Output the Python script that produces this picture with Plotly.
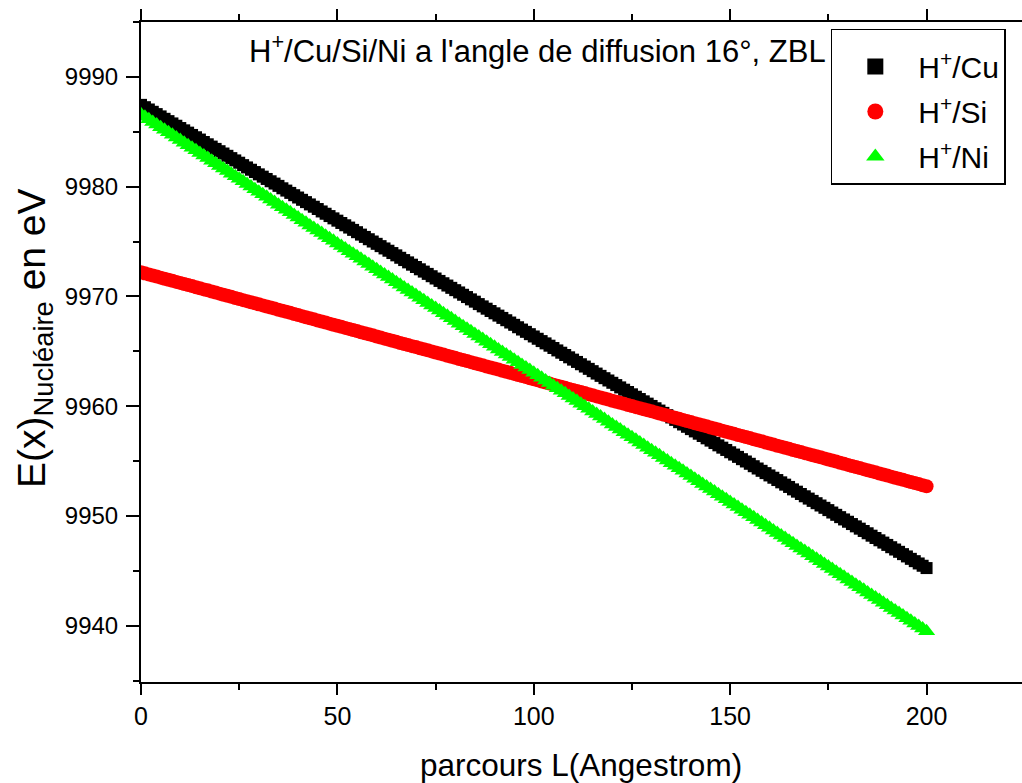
import plotly.graph_objects as go

# Parcours L (Angstrom), pas de 1 A
L_ANGSTROM = list(range(0, 201))

# Energie nucleaire E(x) en eV pour chaque cible
E_CU = [
    9987.45, 9987.24, 9987.03, 9986.82, 9986.61, 9986.40, 9986.18, 9985.97, 9985.76, 9985.55,
    9985.34, 9985.13, 9984.92, 9984.71, 9984.50, 9984.29, 9984.07, 9983.86, 9983.65, 9983.44,
    9983.23, 9983.02, 9982.81, 9982.60, 9982.39, 9982.18, 9981.96, 9981.75, 9981.54, 9981.33,
    9981.12, 9980.91, 9980.70, 9980.49, 9980.28, 9980.07, 9979.85, 9979.64, 9979.43, 9979.22,
    9979.01, 9978.80, 9978.59, 9978.38, 9978.17, 9977.96, 9977.74, 9977.53, 9977.32, 9977.11,
    9976.90, 9976.69, 9976.48, 9976.27, 9976.06, 9975.85, 9975.63, 9975.42, 9975.21, 9975.00,
    9974.79, 9974.58, 9974.37, 9974.16, 9973.95, 9973.74, 9973.52, 9973.31, 9973.10, 9972.89,
    9972.68, 9972.47, 9972.26, 9972.05, 9971.84, 9971.63, 9971.41, 9971.20, 9970.99, 9970.78,
    9970.57, 9970.36, 9970.15, 9969.94, 9969.73, 9969.52, 9969.30, 9969.09, 9968.88, 9968.67,
    9968.46, 9968.25, 9968.04, 9967.83, 9967.62, 9967.41, 9967.19, 9966.98, 9966.77, 9966.56,
    9966.35, 9966.14, 9965.93, 9965.72, 9965.51, 9965.30, 9965.08, 9964.87, 9964.66, 9964.45,
    9964.24, 9964.03, 9963.82, 9963.61, 9963.40, 9963.19, 9962.97, 9962.76, 9962.55, 9962.34,
    9962.13, 9961.92, 9961.71, 9961.50, 9961.29, 9961.08, 9960.86, 9960.65, 9960.44, 9960.23,
    9960.02, 9959.81, 9959.60, 9959.39, 9959.18, 9958.97, 9958.75, 9958.54, 9958.33, 9958.12,
    9957.91, 9957.70, 9957.49, 9957.28, 9957.07, 9956.86, 9956.64, 9956.43, 9956.22, 9956.01,
    9955.80, 9955.59, 9955.38, 9955.17, 9954.96, 9954.75, 9954.53, 9954.32, 9954.11, 9953.90,
    9953.69, 9953.48, 9953.27, 9953.06, 9952.85, 9952.64, 9952.42, 9952.21, 9952.00, 9951.79,
    9951.58, 9951.37, 9951.16, 9950.95, 9950.74, 9950.53, 9950.31, 9950.10, 9949.89, 9949.68,
    9949.47, 9949.26, 9949.05, 9948.84, 9948.63, 9948.42, 9948.20, 9947.99, 9947.78, 9947.57,
    9947.36, 9947.15, 9946.94, 9946.73, 9946.52, 9946.31, 9946.09, 9945.88, 9945.67, 9945.46,
    9945.25,
]

E_SI = [
    9972.20, 9972.10, 9972.00, 9971.91, 9971.81, 9971.71, 9971.61, 9971.52, 9971.42, 9971.32,
    9971.23, 9971.13, 9971.03, 9970.94, 9970.84, 9970.74, 9970.64, 9970.55, 9970.45, 9970.35,
    9970.25, 9970.15, 9970.05, 9969.96, 9969.86, 9969.76, 9969.66, 9969.57, 9969.47, 9969.37,
    9969.28, 9969.18, 9969.08, 9968.99, 9968.89, 9968.79, 9968.69, 9968.60, 9968.50, 9968.40,
    9968.30, 9968.20, 9968.10, 9968.01, 9967.91, 9967.81, 9967.71, 9967.62, 9967.52, 9967.42,
    9967.33, 9967.23, 9967.13, 9967.04, 9966.94, 9966.84, 9966.74, 9966.65, 9966.55, 9966.45,
    9966.35, 9966.25, 9966.15, 9966.06, 9965.96, 9965.86, 9965.76, 9965.67, 9965.57, 9965.47,
    9965.38, 9965.28, 9965.18, 9965.09, 9964.99, 9964.89, 9964.79, 9964.70, 9964.60, 9964.50,
    9964.40, 9964.30, 9964.20, 9964.11, 9964.01, 9963.91, 9963.81, 9963.72, 9963.62, 9963.52,
    9963.43, 9963.33, 9963.23, 9963.14, 9963.04, 9962.94, 9962.84, 9962.75, 9962.65, 9962.55,
    9962.45, 9962.35, 9962.25, 9962.16, 9962.06, 9961.96, 9961.86, 9961.77, 9961.67, 9961.57,
    9961.48, 9961.38, 9961.28, 9961.19, 9961.09, 9960.99, 9960.89, 9960.80, 9960.70, 9960.60,
    9960.50, 9960.40, 9960.30, 9960.21, 9960.11, 9960.01, 9959.91, 9959.82, 9959.72, 9959.62,
    9959.53, 9959.43, 9959.33, 9959.24, 9959.14, 9959.04, 9958.94, 9958.85, 9958.75, 9958.65,
    9958.55, 9958.45, 9958.35, 9958.26, 9958.16, 9958.06, 9957.96, 9957.87, 9957.77, 9957.67,
    9957.58, 9957.48, 9957.38, 9957.29, 9957.19, 9957.09, 9956.99, 9956.90, 9956.80, 9956.70,
    9956.60, 9956.50, 9956.40, 9956.31, 9956.21, 9956.11, 9956.01, 9955.92, 9955.82, 9955.72,
    9955.63, 9955.53, 9955.43, 9955.34, 9955.24, 9955.14, 9955.04, 9954.95, 9954.85, 9954.75,
    9954.65, 9954.55, 9954.45, 9954.36, 9954.26, 9954.16, 9954.06, 9953.97, 9953.87, 9953.77,
    9953.68, 9953.58, 9953.48, 9953.39, 9953.29, 9953.19, 9953.09, 9953.00, 9952.90, 9952.80,
    9952.70,
]

E_NI = [
    9986.60, 9986.36, 9986.13, 9985.89, 9985.66, 9985.42, 9985.19, 9984.95, 9984.72, 9984.48,
    9984.25, 9984.01, 9983.78, 9983.54, 9983.31, 9983.07, 9982.84, 9982.60, 9982.37, 9982.13,
    9981.89, 9981.65, 9981.42, 9981.18, 9980.95, 9980.71, 9980.48, 9980.24, 9980.01, 9979.77,
    9979.54, 9979.30, 9979.07, 9978.83, 9978.60, 9978.36, 9978.13, 9977.89, 9977.66, 9977.42,
    9977.18, 9976.94, 9976.71, 9976.47, 9976.24, 9976.00, 9975.77, 9975.53, 9975.30, 9975.06,
    9974.83, 9974.59, 9974.36, 9974.12, 9973.89, 9973.65, 9973.42, 9973.18, 9972.95, 9972.71,
    9972.47, 9972.23, 9972.00, 9971.76, 9971.53, 9971.29, 9971.06, 9970.82, 9970.59, 9970.35,
    9970.12, 9969.88, 9969.65, 9969.41, 9969.18, 9968.94, 9968.71, 9968.47, 9968.24, 9968.00,
    9967.76, 9967.52, 9967.29, 9967.05, 9966.82, 9966.58, 9966.35, 9966.11, 9965.88, 9965.64,
    9965.41, 9965.17, 9964.94, 9964.70, 9964.47, 9964.23, 9964.00, 9963.76, 9963.53, 9963.29,
    9963.05, 9962.81, 9962.58, 9962.34, 9962.11, 9961.87, 9961.64, 9961.40, 9961.17, 9960.93,
    9960.70, 9960.46, 9960.23, 9959.99, 9959.76, 9959.52, 9959.29, 9959.05, 9958.82, 9958.58,
    9958.34, 9958.10, 9957.87, 9957.63, 9957.40, 9957.16, 9956.93, 9956.69, 9956.46, 9956.22,
    9955.99, 9955.75, 9955.52, 9955.28, 9955.05, 9954.81, 9954.58, 9954.34, 9954.11, 9953.87,
    9953.63, 9953.39, 9953.16, 9952.92, 9952.69, 9952.45, 9952.22, 9951.98, 9951.75, 9951.51,
    9951.28, 9951.04, 9950.81, 9950.57, 9950.34, 9950.10, 9949.87, 9949.63, 9949.40, 9949.16,
    9948.92, 9948.68, 9948.45, 9948.21, 9947.98, 9947.74, 9947.51, 9947.27, 9947.04, 9946.80,
    9946.57, 9946.33, 9946.10, 9945.86, 9945.63, 9945.39, 9945.16, 9944.92, 9944.69, 9944.45,
    9944.21, 9943.97, 9943.74, 9943.50, 9943.27, 9943.03, 9942.80, 9942.56, 9942.33, 9942.09,
    9941.86, 9941.62, 9941.39, 9941.15, 9940.92, 9940.68, 9940.45, 9940.21, 9939.98, 9939.74,
    9939.50,
]

SERIES_NAMES = ["H<sup>+</sup>/Cu", "H<sup>+</sup>/Si", "H<sup>+</sup>/Ni"]
TITLE = "H<sup>+</sup>/Cu/Si/Ni a l'angle de diffusion 16°, ZBL"
X_TITLE = "parcours L(Angestrom)"
Y_TITLE = "E(x)<sub>Nucléaire</sub> en eV"

FONT = "Arial, Liberation Sans, sans-serif"
X_RANGE = [0, 224.3]
Y_RANGE = [9934.87, 9995.0]

fig = go.Figure()

styles = [
    dict(symbol="square", color="#000000", size=12, legend_size=16),
    dict(symbol="circle", color="#ff0000", size=14, legend_size=18),
    dict(symbol="triangle-up", color="#00ff00", size=15, legend_size=20),
]
for name, ys, st in zip(SERIES_NAMES, [E_CU, E_SI, E_NI], styles):
    fig.add_trace(go.Scatter(
        x=L_ANGSTROM, y=ys, name=name, mode="markers",
        legendgroup=name, showlegend=False,
        marker=dict(symbol=st["symbol"], color=st["color"], size=st["size"],
                    line=dict(width=0)),
    ))
# Entrees de legende avec des symboles un peu plus grands
for name, st in zip(SERIES_NAMES, styles):
    fig.add_trace(go.Scatter(
        x=[None], y=[None], name=name, mode="markers",
        legendgroup=name, showlegend=True,
        marker=dict(symbol=st["symbol"], color=st["color"], size=st["legend_size"],
                    line=dict(width=0)),
    ))

fig.update_layout(
    width=1022, height=783,
    margin=dict(l=141, r=0, t=22, b=101),
    paper_bgcolor="white", plot_bgcolor="white",
    font=dict(family=FONT, color="black", size=25),
    showlegend=True,
    legend=dict(
        x=0.783, y=0.99, xanchor="left", yanchor="top",
        bgcolor="white", bordercolor="black", borderwidth=1.5,
        font=dict(size=30, family=FONT, color="black"),
        title=dict(text=" ", font=dict(size=8)),
        tracegroupgap=3,
        itemwidth=76,
    ),
    xaxis=dict(
        range=X_RANGE, showgrid=False, zeroline=False,
        showline=True, linecolor="black", linewidth=2,
        mirror="ticks",
        ticks="outside", ticklen=11, tickwidth=2, tickcolor="black",
        tick0=0, dtick=50,
        minor=dict(ticks="outside", ticklen=6, tickwidth=2, tickcolor="black",
                   dtick=25, tick0=0, showgrid=False),
        tickfont=dict(size=25, family=FONT, color="black"),
    ),
    yaxis=dict(
        range=Y_RANGE, showgrid=False, zeroline=False,
        showline=True, linecolor="black", linewidth=2,
        ticks="outside", ticklen=13, tickwidth=2, tickcolor="black",
        tick0=9940, dtick=10, tickformat="d", ticklabelstandoff=3,
        minor=dict(ticks="outside", ticklen=6, tickwidth=2, tickcolor="black",
                   dtick=5, tick0=9940, showgrid=False),
        tickfont=dict(size=24, family=FONT, color="black"),
    ),
    yaxis2=dict(
        range=Y_RANGE, overlaying="y", side="right", anchor="x",
        showgrid=False, zeroline=False, showline=False,
        ticks="inside", ticklen=10, tickwidth=2, tickcolor="black",
        tick0=9940, dtick=10, showticklabels=False,
    ),
)

# Prolongements du cadre au coin superieur gauche
fig.add_shape(type="line", xref="paper", yref="paper",
              x0=0, x1=0, y0=1, y1=1 + 12 / 660,
              line=dict(color="black", width=2))
fig.add_shape(type="line", xref="paper", yref="paper",
              x0=-7 / 881, x1=0, y0=1, y1=1,
              line=dict(color="black", width=2))

# Titre du graphe, titres des axes
fig.add_annotation(
    text=TITLE, xref="x", yref="y", x=27.0, y=9992.5,
    xanchor="left", yanchor="middle", showarrow=False,
    font=dict(size=31, family=FONT, color="black"),
)
fig.add_annotation(
    text=X_TITLE, xref="paper", yref="paper", x=(581 - 141) / 881, y=(682 - 765) / 660,
    xanchor="center", yanchor="middle", showarrow=False,
    font=dict(size=31.5, family=FONT, color="black"),
)
fig.add_annotation(
    text=Y_TITLE, xref="paper", yref="paper", x=(34 - 141) / 881, y=(682 - 338) / 660,
    xanchor="center", yanchor="middle", showarrow=False, textangle=-90,
    font=dict(size=39, family=FONT, color="black"),
)

fig.write_html("out.html")
